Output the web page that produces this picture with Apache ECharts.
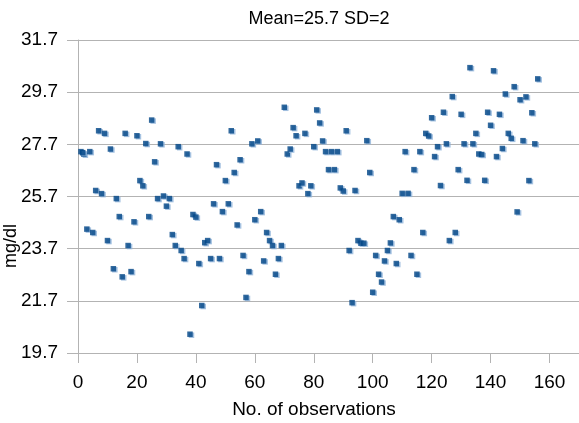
<!DOCTYPE html>
<html>
<head>
<meta charset="utf-8">
<script src="https://cdn.jsdelivr.net/npm/echarts@6/dist/echarts.min.js"></script>
<style>html,body{margin:0;padding:0;background:#fff}#c{width:579px;height:423px}</style>
</head>
<body>
<div id="c"></div>
<script>
var titleText = 'Mean=25.7 SD=2';
var xAxisName = 'No. of observations';
var yAxisName = 'mg/dl';
var yTicks = [19.7, 21.7, 23.7, 25.7, 27.7, 29.7, 31.7];
var xTicks = [0, 20, 40, 60, 80, 100, 120, 140, 160];
var values = [
27.42,27.32,24.45,27.42,24.32,25.93,28.22,25.81,28.12,24.01,
27.52,22.93,25.62,24.93,22.62,28.12,23.82,22.82,24.73,28.03,
26.31,26.11,27.73,24.93,28.63,27.03,25.62,27.72,25.72,25.33,
25.62,24.24,23.82,27.61,23.63,23.32,27.33,20.42,25.01,24.91,
23.13,21.52,23.93,24.01,23.32,25.42,26.92,23.32,25.12,26.31,
25.42,28.22,26.62,24.61,27.11,23.44,21.83,22.82,27.72,24.81,
27.83,25.12,23.23,24.32,24.01,23.82,22.72,23.32,23.82,29.12,
27.33,27.52,28.34,28.03,26.11,26.22,28.12,25.81,26.11,27.61,
29.02,28.52,27.83,27.42,26.73,27.42,26.73,27.42,26.03,25.91,
28.22,23.63,21.63,25.93,24.01,23.91,23.91,27.84,26.62,22.03,
23.44,22.72,22.42,23.23,23.63,23.92,24.93,23.13,24.81,25.82,
27.42,25.82,23.44,26.73,22.72,27.42,24.32,28.12,28.02,28.72,
27.23,27.61,26.12,28.93,27.72,24.01,29.53,24.32,26.73,28.85,
27.72,26.32,30.64,27.72,28.12,27.33,27.31,26.32,28.93,28.43,
30.52,27.23,28.85,27.54,29.63,28.12,27.93,29.91,25.11,29.41,
27.84,29.52,26.31,28.91,27.72,30.21
];
var extraObs = [1.6];
var extraValues = [27.38];

var data = values.map(function (v, i) { return [i + 1, v]; });
extraObs.forEach(function (x, i) { data.push([x, extraValues[i]]); });

var chart = echarts.init(document.getElementById('c'), null, {renderer: 'canvas'});
var font = 'Liberation Sans, Arial, sans-serif';
chart.setOption({
  animation: false,
  backgroundColor: '#ffffff',
  title: {
    text: titleText,
    left: 314, top: 5, textAlign: 'center',
    textStyle: {fontFamily: font, fontSize: 18, fontWeight: 'normal', color: '#000'}
  },
  grid: {left: 78, top: 40, width: 506, height: 313, containLabel: false},
  xAxis: {
    type: 'value', min: 0, max: 170, interval: 20,
    axisLine: {show: true, lineStyle: {color: '#b3b3b3', width: 1}},
    axisTick: {show: true, length: 10, lineStyle: {color: '#b3b3b3'}},
    axisLabel: {
      fontFamily: font, fontSize: 19, color: '#000', margin: 20,
      showMaxLabel: false,
      formatter: function (v) { return xTicks.indexOf(v) >= 0 ? String(v) : ''; }
    },
    splitLine: {show: false}
  },
  yAxis: {
    type: 'value', min: yTicks[0], max: yTicks[yTicks.length - 1], interval: 2,
    axisLine: {show: true, lineStyle: {color: '#b3b3b3', width: 1}},
    axisTick: {show: true, length: 11, lineStyle: {color: '#b3b3b3'}},
    axisLabel: {
      fontFamily: font, fontSize: 19, color: '#000', margin: 20,
      formatter: function (v) {
        var best = yTicks.reduce(function (a, b) { return Math.abs(b - v) < Math.abs(a - v) ? b : a; });
        return best.toFixed(1);
      }
    },
    splitLine: {show: true, lineStyle: {color: '#b3b3b3', width: 1}}
  },
  graphic: [{
    type: 'text', x: 2, y: 268, rotation: Math.PI / 2,
    style: {text: yAxisName, font: '18px ' + font, fill: '#000', textAlign: 'left', textVerticalAlign: 'top'}
  }, {
    type: 'text', x: 314, y: 410,
    style: {text: xAxisName, font: '19px ' + font, fill: '#000', textAlign: 'center', textVerticalAlign: 'middle'}
  }],
  series: [{
    type: 'scatter',
    data: data,
    symbol: 'rect',
    symbolSize: 5.5,
    itemStyle: {
      color: '#004586',
      shadowColor: '#8fb3d9', shadowBlur: 0, shadowOffsetX: 1.5, shadowOffsetY: 1
    }
  }]
});
</script>
</body>
</html>
